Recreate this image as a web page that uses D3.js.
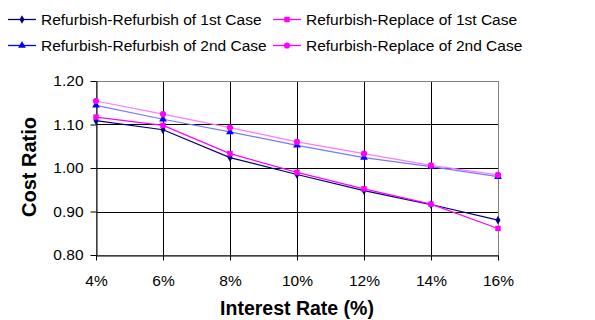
<!DOCTYPE html>
<html><head><meta charset="utf-8">
<script src="https://cdn.jsdelivr.net/npm/d3@7"></script>
<style>body{margin:0;background:#fff}svg{display:block;font-family:"Liberation Sans",Arial,sans-serif}</style>
</head><body><svg id="c" width="595" height="320"></svg>
<script>
const categories = ["4%","6%","8%","10%","12%","14%","16%"];
const yTicks = [0.80,0.90,1.00,1.10,1.20];
const seriesNames = ["Refurbish-Refurbish of 1st Case","Refurbish-Replace of 1st Case","Refurbish-Refurbish of 2nd Case","Refurbish-Replace of 2nd Case"];
const rr1 = [1.109,1.088,1.024,0.985,0.948,0.916,0.880];
const rp1 = [1.117,1.098,1.033,0.990,0.952,0.917,0.861];
const rr2 = [1.144,1.112,1.083,1.052,1.024,1.003,0.980];
const rp2 = [1.154,1.124,1.093,1.060,1.033,1.006,0.984];

const series = [
  {name:seriesNames[0], values:rr1, line:"#000080", mark:"#000080", sym:d3.symbolDiamond, size:22},
  {name:seriesNames[1], values:rp1, line:"#ff00ff", mark:"#ff00ff", sym:d3.symbolSquare, size:30},
  {name:seriesNames[2], values:rr2, line:"#7878ff", mark:"#0000ff", sym:d3.symbolTriangle, size:26},
  {name:seriesNames[3], values:rp2, line:"#ff78ff", mark:"#ff00ff", sym:d3.symbolCircle, size:30}
];

const svg = d3.select("#c");
const L=96, R=498, T=81, B=255;
const x = d3.scalePoint().domain(categories).range([L,R]);
const y = d3.scaleLinear().domain([0.8,1.2]).range([B,T]);

// gridlines
const g = svg.append("g");
g.selectAll(".hg").data(yTicks).join("line")
  .attr("x1",L).attr("x2",R).attr("y1",d=>Math.round(y(d))+0.5).attr("y2",d=>Math.round(y(d))+0.5)
  .attr("stroke","#000").attr("stroke-width",1);
g.selectAll(".vg").data(categories).join("line")
  .attr("x1",d=>Math.round(x(d))+0.5).attr("x2",d=>Math.round(x(d))+0.5).attr("y1",T).attr("y2",B)
  .attr("stroke","#000").attr("stroke-width",1);
// plot border
svg.append("rect").attr("x",L+0.5).attr("y",T+0.5).attr("width",R-L).attr("height",B-T)
  .attr("fill","none").attr("stroke","#808080");

// axes
const ya = svg.append("g").attr("transform",`translate(${L+0.5},0)`)
  .call(d3.axisLeft(y).tickValues(yTicks).tickFormat(d3.format(".2f")).tickSize(6).tickSizeOuter(0));
ya.select(".domain").attr("stroke","#000");
ya.selectAll("text").attr("font-size",15.5).attr("fill","#000").attr("x",-13).attr("font-family","Liberation Sans, Arial, sans-serif");
const xa = svg.append("g").attr("transform",`translate(0,${B+0.5})`)
  .call(d3.axisBottom(x).tickSize(5).tickSizeOuter(0));
xa.select(".domain").attr("stroke","#000");
xa.selectAll("text").attr("font-size",15.5).attr("fill","#000").attr("y",30.5).attr("dy",0).attr("font-family","Liberation Sans, Arial, sans-serif");

// lines
const line = d3.line().x((d,i)=>x(categories[i])).y(d=>y(d));
series.forEach(s=>{
  svg.append("path").datum(s.values).attr("d",line).attr("fill","none").attr("stroke",s.line).attr("stroke-width",1.2);
});
series.forEach(s=>{
  svg.append("g").selectAll("path").data(s.values).join("path")
    .attr("transform",(d,i)=>`translate(${x(categories[i])},${y(d)})`)
    .attr("d",d3.symbol().type(s.sym).size(s.size)).attr("fill",s.mark);
});

// axis titles
svg.append("text").attr("x",297).attr("y",315).attr("text-anchor","middle")
  .attr("font-size",19.5).attr("font-weight","bold").text("Interest Rate (%)");
svg.append("text").attr("transform","translate(36,167) rotate(-90)").attr("text-anchor","middle")
  .attr("font-size",20).attr("font-weight","bold").text("Cost Ratio");

// legend
const legPos = [[8,19.5],[273,19.5],[8,45.5],[273,45.5]];
series.forEach((s,i)=>{
  const [lx,ly]=legPos[i];
  const lg = svg.append("g").attr("transform",`translate(${lx},${ly})`);
  lg.append("line").attr("x1",0).attr("x2",28).attr("y1",0).attr("y2",0).attr("stroke",s.mark).attr("stroke-width",1.3);
  lg.append("path").attr("transform","translate(14,0)").attr("d",d3.symbol().type(s.sym).size(s.size)).attr("fill",s.mark);
  lg.append("text").attr("x",33).attr("y",5.5).attr("font-size",15.5).attr("fill","#000").text(s.name);
});
</script></body></html>
